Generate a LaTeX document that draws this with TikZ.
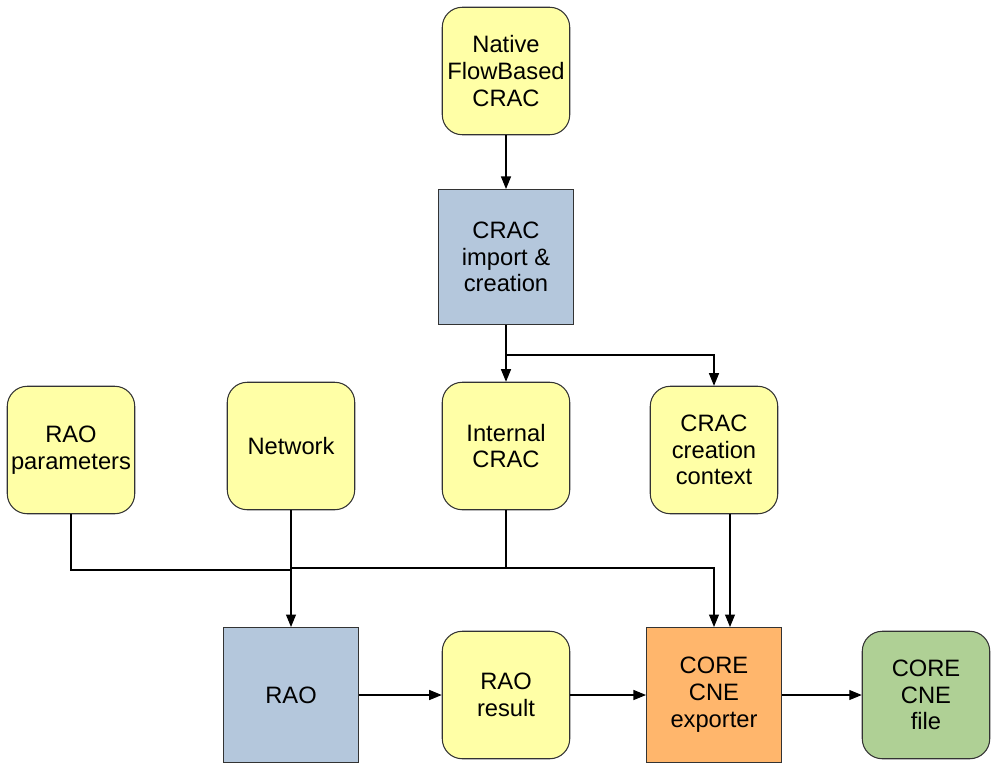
\documentclass[tikz,border=0pt]{standalone}
\usepackage{fontspec}
\setmainfont{Liberation Sans}
\usetikzlibrary{arrows.meta}
\definecolor{boxyellow}{HTML}{FFFFA6}
\definecolor{boxblue}{HTML}{B4C7DC}
\definecolor{boxorange}{HTML}{FFB66C}
\definecolor{boxgreen}{HTML}{AFD095}
\tikzset{
	datafile/.style={draw=black!80, line width=0.6pt, rounded corners=0.4cm, align=center, inner sep=0pt, minimum width=2.55cm, minimum height=2.55cm},
	process/.style={draw=black!80, line width=0.6pt, align=center, inner sep=0pt, minimum width=2.7cm, minimum height=2.7cm},
	flow/.style={line width=0.6pt, -{Triangle[length=0.25cm, width=0.2cm]}},
	joint/.style={line width=0.6pt}
}
\begin{document}
\begin{tikzpicture}[x=0.02cm, y=-0.02cm, font=\fontsize{13.5}{15.2}\selectfont]
	\useasboundingbox (0,0) rectangle (1000,768);
	%inputs
	\node[datafile, fill=boxyellow] (native) at (506,71) {Native\\FlowBased\\CRAC};
	\node[process, fill=boxblue] (import) at (506,257) {CRAC\\import \&\\creation};
	\node[datafile, fill=boxyellow] (params) at (71,450) {RAO\\parameters};
	\node[datafile, fill=boxyellow] (network) at (291,446) {Network};
	\node[datafile, fill=boxyellow] (internal) at (506,446) {Internal\\CRAC};
	\node[datafile, fill=boxyellow] (context) at (714,450) {CRAC\\creation\\context};
	%bottom row
	\node[process, fill=boxblue] (rao) at (291,695) {RAO};
	\node[datafile, fill=boxyellow] (result) at (506,695) {RAO\\result};
	\node[process, fill=boxorange] (exporter) at (714,695) {\raisebox{-2pt}{\begin{tabular}{@{}c@{}}CORE\\CNE\\exporter\end{tabular}}};
	\node[datafile, fill=boxgreen] (file) at (926,695) {CORE\\CNE\\file};
	%junctions
	\coordinate (split) at (506,355);
	\coordinate (paramsjoin) at (291,570);
	\coordinate (crachub) at (506,568);
	\coordinate (cracleft) at (291,568);
	%arrows
	\draw[flow] (native) -- (import);
	\draw[flow] (import) -- (internal);
	\draw[flow] (split) -| (context.north);
	\draw[joint] (params.south) |- (paramsjoin);
	\draw[flow] (network) -- (rao);
	\draw[joint] (internal.south) -- (crachub) -- (cracleft);
	\draw[flow] (crachub) -| (exporter.north);
	\draw[flow] ([xshift=0.32cm]context.south) -- ([xshift=0.32cm]exporter.north);
	\draw[flow] (rao) -- (result);
	\draw[flow] (result) -- (exporter);
	\draw[flow] (exporter) -- (file);
\end{tikzpicture}
\end{document}
